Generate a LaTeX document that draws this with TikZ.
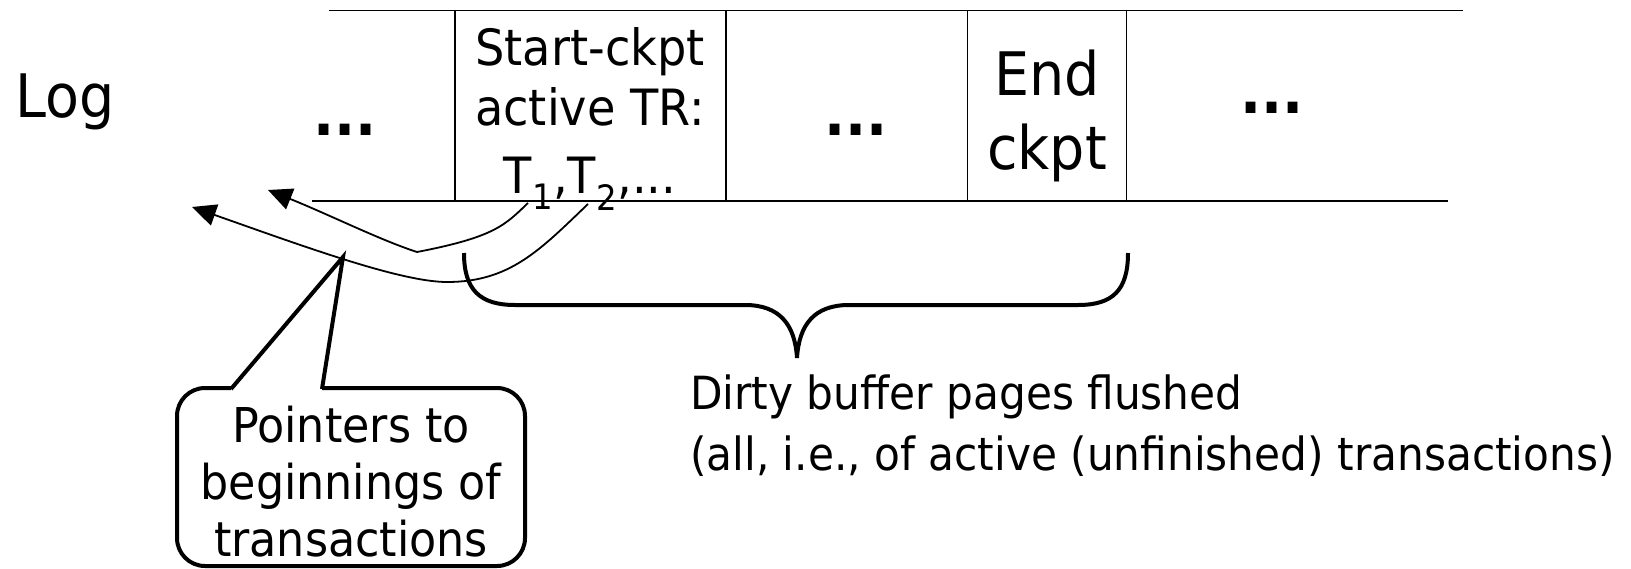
\documentclass[tikz,border=0pt]{standalone}
\usepackage{fontspec}
\setmainfont{DejaVu Sans}[FakeStretch=0.925]
\usetikzlibrary{arrows.meta}
\begin{document}
\begin{tikzpicture}[x=1pt,y=-1pt,
  tline/.style={line width=1.8pt},
  ptr/.style={line width=1.8pt,-{Triangle[length=24pt,width=22pt]}},
  thick4/.style={line width=4pt},
  txt/.style={inner sep=0pt,anchor=base,font=\fontsize{45.7}{54}\selectfont},
  big/.style={inner sep=0pt,anchor=base,font=\fontsize{60}{72}\selectfont},
  cell/.style={inner sep=0pt,anchor=base,font=\fontsize{50}{60}\selectfont},
  call/.style={inner sep=0pt,anchor=base,font=\fontsize{48}{58}\selectfont}]
\useasboundingbox (0,0) rectangle (1631,568);
% log table
\draw[tline] (329,10.5) -- (1463,10.5);
\draw[tline] (312,201) -- (1448,201);
\foreach \x in {454.6,726,967.4,1126.5} \draw[tline] (\x,10.5) -- (\x,201);
\node[big,anchor=base west] (log) at (15,117) {Log};
\node[big] (d1) at (345,135) {\textbf{...}};
\node[cell] (s1) at (590,65) {Start-ckpt};
\node[cell] (s2) at (590,125) {active TR:};
\node[cell] (s3) at (590,193) {T\textsubscript{1},T\textsubscript{2},...};
\node[big] (d2) at (856,135) {\textbf{...}};
\node[big] (e1) at (1047,95) {End};
\node[big] (e2) at (1047,169) {ckpt};
\node[big] (d3) at (1272,113) {\textbf{...}};
% pointers
\coordinate (t1) at (528,203);
\coordinate (t2) at (588,204);
\coordinate (a1) at (268,190);
\coordinate (a2) at (192,207);
\draw[ptr] (t1) .. controls (505,225) and (495,237) .. (417,252) .. controls (380,240) and (330,215) .. (a1);
\draw[ptr] (t2) .. controls (540,250) and (510,282) .. (447,282) .. controls (400,282) and (300,245) .. (a2);
% brace
\draw[thick4] (464,253) .. controls (464,290) and (480,305) .. (515,305) -- (745,305) .. controls (780,305) and (795,325) .. (797,358) .. controls (799,325) and (814,305) .. (849,305) -- (1078,305) .. controls (1113,305) and (1128,290) .. (1128,253);
% callout
\coordinate (tip) at (343,257);
\draw[thick4,rounded corners=28pt] (231,388) -- (177,388) -- (177,566) -- (525,566) -- (525,388) -- (322,388);
\draw[thick4,line join=miter] (231,389) -- (tip) -- (322,389);
\node[call] (p1) at (351,442) {Pointers to};
\node[call] (p2) at (351,499) {beginnings of};
\node[call] (p3) at (351,556) {transactions};
% dirty text
\node[txt,anchor=base west] (f1) at (690,409) {Dirty buffer pages flushed};
\node[txt,anchor=base west] (f2) at (690,470) {(all, i.e., of active (unfinished) transactions)};
\end{tikzpicture}
\end{document}
